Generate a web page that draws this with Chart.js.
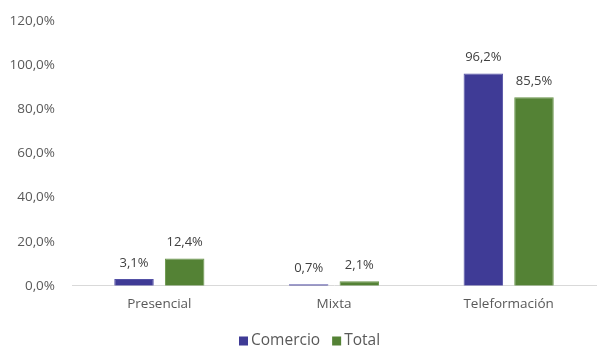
<!DOCTYPE html>
<html>
<head>
<meta charset="utf-8">
<script src="https://cdn.jsdelivr.net/npm/chart.js@4.4.1/dist/chart.umd.min.js"></script>
<style>
  html, body { margin: 0; padding: 0; background: #fff; }
  #wrap { width: 601px; height: 349px; }
</style>
</head>
<body>
<div id="wrap"><canvas id="chart" width="601" height="349"></canvas></div>
<script>
// Categories and series (percent values)
const categories = ["Presencial", "Mixta", "Teleformación"];
const comercio = [3.1, 0.7, 96.2];
const total = [12.4, 2.1, 85.5];
const yTicks = [0, 20, 40, 60, 80, 100, 120];

const FONT = "'Open Sans', sans-serif";

// Spanish style number: comma as decimal separator
function fmt(v) {
  return v.toFixed(1).replace(".", ",") + "%";
}

// Write the value above every bar
const barValues = {
  id: "barValues",
  afterDatasetsDraw(chart) {
    const ctx = chart.ctx;
    ctx.save();
    ctx.font = "13px " + FONT;
    ctx.fillStyle = "#404040";
    ctx.textAlign = "center";
    ctx.textBaseline = "middle";
    chart.data.datasets.forEach((ds, i) => {
      chart.getDatasetMeta(i).data.forEach((bar, j) => {
        ctx.fillText(fmt(ds.data[j]), bar.x, bar.y - 16);
      });
    });
    ctx.restore();
  },
};

// Excel-like legend under the axis: small squares followed by the names
const bottomLegend = {
  id: "bottomLegend",
  afterDraw(chart) {
    const ctx = chart.ctx;
    const box = 9;
    const y = 341;
    ctx.save();
    ctx.font = "15.5px " + FONT;
    ctx.textBaseline = "middle";
    ctx.textAlign = "left";
    let x = 239;
    chart.data.datasets.forEach((ds) => {
      ctx.fillStyle = ds.backgroundColor;
      ctx.fillRect(x, y - box / 2, box, box);
      x += box + 3;
      ctx.fillStyle = "#595959";
      ctx.fillText(ds.label, x, y);
      x += ctx.measureText(ds.label).width + 12;
    });
    ctx.restore();
  },
};

new Chart(document.getElementById("chart"), {
  type: "bar",
  data: {
    labels: categories,
    datasets: [
      {
        label: "Comercio",
        data: comercio,
        backgroundColor: "#3f3b96",
        borderColor: "#5451a6",
        borderWidth: 1,
        barPercentage: 0.78,
        categoryPercentage: 0.58,
      },
      {
        label: "Total",
        data: total,
        backgroundColor: "#548235",
        borderColor: "#679448",
        borderWidth: 1,
        barPercentage: 0.78,
        categoryPercentage: 0.58,
      },
    ],
  },
  options: {
    responsive: false,
    animation: false,
    layout: { padding: { top: 21, right: 5, left: 0, bottom: 35 } },
    plugins: {
      legend: { display: false },
      tooltip: { enabled: false },
    },
    scales: {
      x: {
        grid: { display: false },
        border: { color: "#d9d9d9", width: 1 },
        ticks: {
          color: "#595959",
          padding: 2,
          font: { family: FONT, size: 13.5 },
        },
      },
      y: {
        min: 0,
        max: 120,
        afterBuildTicks: (scale) => {
          scale.ticks = yTicks.map((v) => ({ value: v }));
        },
        afterFit: (scale) => {
          scale.width = 72;
        },
        grid: { display: false },
        border: { display: false },
        ticks: {
          color: "#595959",
          padding: 9,
          font: { family: FONT, size: 13.5 },
          callback: (v) => fmt(v),
        },
      },
    },
  },
  plugins: [barValues, bottomLegend],
});
</script>
</body>
</html>
